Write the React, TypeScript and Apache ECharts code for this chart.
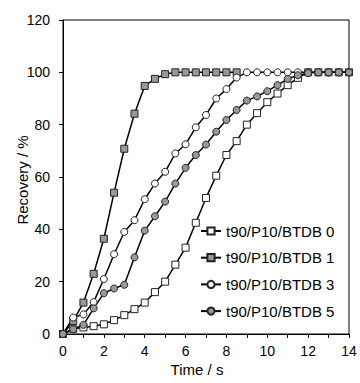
import React, { useEffect, useRef } from "react";
import * as echarts from "echarts";

const times = [0, 0.5, 1, 1.5, 2, 2.5, 3, 3.5, 4, 4.5, 5, 5.5, 6, 6.5, 7, 7.5, 8, 8.5, 9, 9.5, 10, 10.5, 11, 11.5, 12, 12.5, 13, 13.5, 14];
const btdb0 = [0, 2, 2.5, 3, 3.7, 5.3, 7.2, 9.5, 12, 16, 20, 26.5, 33, 42.5, 52, 60.5, 68.4, 73.7, 80, 84.4, 88.6, 91.9, 95.1, 97.9, 100, 100, 100, 100, 100];
const btdb1 = [0, 5, 12, 23, 36.4, 54, 70.8, 84.2, 94.8, 97.5, 99.3, 100, 100, 100, 100, 100, 100, 100];
const btdb3 = [0, 6.3, 7.5, 12.2, 21, 30.5, 39, 43.5, 51.5, 57.5, 62, 69, 72.5, 79, 83.7, 90, 93.6, 98, 100, 100, 100, 100, 100, 100, 100, 100, 100, 100, 100];
const btdb5 = [0, 1.8, 3.5, 9.8, 15.6, 17.4, 18.8, 29.3, 39.5, 45, 50.6, 57.5, 63.5, 68.4, 72.4, 77.3, 81.8, 85.6, 89.2, 90.8, 92.8, 95.1, 97.5, 98.9, 99.7, 100, 100, 100, 100];
const seriesNames = ["t90/P10/BTDB 0", "t90/P10/BTDB 1", "t90/P10/BTDB 3", "t90/P10/BTDB 5"];
const xTitle = "Time / s";
const yTitle = "Recovery / %";

const FONT = "'Liberation Sans', Arial, sans-serif";

export default function App() {
  const ref = useRef<HTMLDivElement>(null);
  useEffect(() => {
    if (!ref.current) return;
    document.body.style.margin = "0";
    document.body.style.overflow = "hidden";
    const chart = echarts.init(ref.current, null, { renderer: "svg" });
    const pair = (vals: number[]) => vals.map((v, i) => [times[i], v]);
    const mk = (name: string, vals: number[], symbol: string, fill: string) => ({
      name,
      type: "line",
      data: pair(vals),
      symbol,
      symbolSize: 7,
      showAllSymbol: true,
      lineStyle: { color: "#000", width: 1.5 },
      itemStyle: { color: fill, borderColor: "#222", borderWidth: 1 },
    });
    chart.setOption({
      animation: false,
      textStyle: { fontFamily: FONT },
      grid: { left: 63, right: 11, top: 20, bottom: 49, show: true, borderColor: "#000", borderWidth: 1, backgroundColor: "transparent" },
      legend: {
        orient: "vertical",
        left: 200,
        top: 223.5,
        padding: 0,
        itemWidth: 20,
        itemHeight: 9,
        itemGap: 11.7,
        textStyle: { fontFamily: FONT, fontSize: 15, color: "#000", lineHeight: 15 },
        data: seriesNames,
      },
      graphic: [
        {
          type: "text",
          x: 197,
          y: 369,
          style: { text: xTitle, fontFamily: FONT, fontSize: 15, fill: "#000", align: "center", verticalAlign: "middle" },
        },
        {
          type: "text",
          x: 22,
          y: 180,
          rotation: Math.PI / 2,
          style: { text: yTitle, fontFamily: FONT, fontSize: 15, fill: "#000", align: "center", verticalAlign: "middle" },
        },
      ],
      xAxis: {
        type: "value",
        min: 0,
        max: 14,
        interval: 2,
        axisLine: { lineStyle: { color: "#000", width: 1 } },
        axisTick: { show: true, length: 4, lineStyle: { color: "#000" } },
        minorTick: { show: true, splitNumber: 2, length: 4, lineStyle: { color: "#000" } },
        axisLabel: { fontFamily: FONT, fontSize: 14, color: "#000", margin: 10 },
        splitLine: { show: false },
      },
      yAxis: {
        type: "value",
        min: 0,
        max: 120,
        interval: 20,
        axisLine: { show: true, lineStyle: { color: "#000", width: 1 } },
        axisTick: { show: true, length: 4, lineStyle: { color: "#000" } },
        axisLabel: { fontFamily: FONT, fontSize: 14, color: "#000", margin: 13 },
        splitLine: { show: false },
      },
      series: [
        mk(seriesNames[0], btdb0, "rect", "#fff"),
        mk(seriesNames[1], btdb1, "rect", "#999"),
        mk(seriesNames[2], btdb3, "circle", "#fff"),
        mk(seriesNames[3], btdb5, "circle", "#999"),
      ],
    });
    return () => chart.dispose();
  }, []);
  return <div ref={ref} style={{ position: "absolute", left: 0, top: 0, width: 360, height: 383 }} />;
}
